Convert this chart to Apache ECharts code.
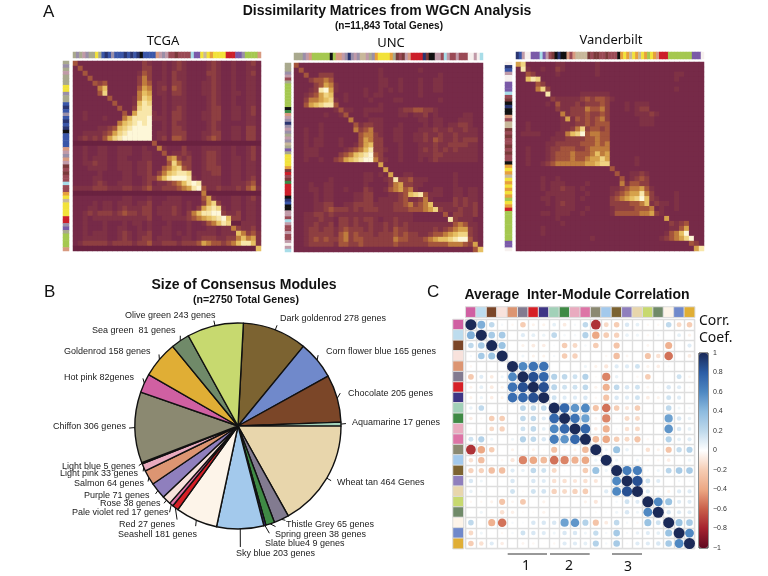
<!DOCTYPE html>
<html><head><meta charset="utf-8">
<style>html,body{margin:0;padding:0;background:#fff}#c{width:768px;height:576px}</style>
<script src="https://cdn.jsdelivr.net/npm/echarts@6/dist/echarts.min.js"></script>
</head><body><div id="c"></div>
<script>
// ---------- data ----------
var moduleNames = ['Hot pink','Light blue','Chocolate','Rose','Salmon','Thistle Grey','Red','Slate blue4','Aquamarine','Spring green','Light pink','Pale violet red','Chiffon','Sky blue','Dark goldenrod','Purple','Wheat tan','Olive green','Sea green','Seashell','Corn flower blue','Goldenrod'];
var moduleColors = ['#d060a2','#bddcee','#7b4628','#f8e2dc','#dc9572','#827b90','#d61f26','#3e3585','#a2d1b8','#3f8a45','#e9abbf','#dd74a6','#8b8971','#a3c9ec','#7c6331','#8f7fbd','#e8d6ac','#c7d96f','#708a69','#fdf4e9','#7089cb','#e0ae35'];
var pieNames = ['Dark goldenrod','Corn flower blue','Chocolate','Aquamarine','Wheat tan','Thistle Grey','Spring green','Slate blue4','Sky blue','Seashell','Red','Pale violet red','Rose','Purple','Salmon','Light pink','Light blue','Chiffon','Hot pink','Goldenrod','Sea green','Olive green'];
var pieValues = [278,165,205,17,464,65,38,9,203,181,27,17,38,71,64,33,5,306,82,158,81,243];
var pieLabels = ['Dark goldenrod 278 genes','Corn flower blue 165 genes','Chocolate 205 genes','Aquamarine 17 genes','Wheat tan 464 Genes','Thistle Grey 65 genes','Spring green 38 genes','Slate blue4 9 genes','Sky blue 203 genes','Seashell 181 genes','Red 27 genes','Pale violet red 17 genes','Rose 38 genes','Purple 71 genes','Salmon 64 genes','Light pink 33 genes','Light blue 5 genes','Chiffon 306 genes','Hot pink 82genes','Goldenrod 158 genes','Sea green  81 genes','Olive green 243 genes'];
var corr = [
[1,.45,.2,.03,-.03,-.2,-.05,-.05,.08,-.08,.03,.2,-.75,-.15,-.2,.12,.08,-.03,-.03,.2,-.15,-.2],
[.45,1,.3,.3,0,.1,.08,.06,.2,.03,.03,.25,-.4,-.2,-.18,.07,.05,-.03,.03,0,.08,-.05],
[.2,.3,1,.35,0,-.05,-.08,-.07,.02,-.2,-.15,.03,-.2,0,-.25,0,0,-.04,0,-.35,0,.1],
[.03,.3,.35,1,0,.05,-.05,-.05,.03,-.2,-.18,.01,0,-.03,-.28,-.04,0,-.25,-.12,-.55,0,-.08],
[-.03,0,0,0,1,.6,.7,.7,0,0,0,.05,-.05,-.1,.1,.1,.15,-.05,-.07,.02,0,0],
[-.22,.1,-.08,.05,.6,1,.85,.75,.25,.2,.15,.25,-.02,-.5,.07,0,-.03,-.2,0,0,.15,-.04],
[-.05,.08,-.08,-.05,.7,.85,1,.85,.22,.15,.15,.2,-.05,-.35,.2,.12,.15,-.04,-.02,.12,.1,-.02],
[-.05,.06,-.07,-.05,.72,.75,.85,1,.15,.1,.1,.12,-.03,-.25,.12,.1,.15,-.08,-.05,.15,.1,0],
[.07,.2,0,.02,0,.22,.2,.2,1,.75,.55,.6,-.25,-.55,-.2,-.1,-.2,0,0,.2,.05,.03],
[-.07,-.03,-.2,-.2,0,.2,.2,.1,.75,1,.7,.5,-.04,-.5,.02,-.15,-.15,0,0,.5,.12,.07],
[-.02,-.02,-.15,-.18,0,.15,.2,.08,.6,.75,1,.75,-.07,-.35,.02,-.12,-.15,0,0,.55,.12,.08],
[.15,.25,.05,0,.05,.25,.2,.12,.65,.55,.75,1,-.3,-.4,-.2,-.15,-.25,-.03,-.02,.25,.08,.1],
[-.75,-.4,-.2,0,-.05,-.03,-.05,-.02,-.25,-.03,-.05,-.3,1,.05,.35,.07,0,-.12,-.05,-.25,.18,.25],
[-.12,-.28,-.02,-.03,-.1,-.5,-.4,-.3,-.55,-.5,-.35,-.4,.05,1,.05,.02,.05,-.03,-.03,-.07,0,.05],
[-.18,-.18,-.28,-.28,.1,.07,.2,.15,-.15,.02,.02,-.2,.35,.05,1,.65,.65,.03,.05,.22,.3,.3],
[.12,.05,0,-.01,.12,0,.12,.1,-.12,-.12,-.1,-.12,-.1,.02,.6,1,.85,.15,.1,0,.03,.02],
[.07,.03,0,0,.15,-.02,.15,.14,-.18,-.15,-.18,-.2,0,.1,.6,.85,1,.1,.04,-.05,.1,.1],
[-.03,-.03,-.05,-.25,-.04,-.22,0,-.05,0,0,0,-.05,-.1,0,.03,.15,.1,1,.6,.35,.1,.1],
[-.01,.05,-.02,-.12,-.06,-.02,-.02,-.05,-.02,0,0,-.01,-.02,.02,.05,.12,.05,.6,1,.12,.1,.1],
[.2,0,-.35,-.55,.03,.02,.12,.12,.12,.5,.55,.25,-.25,-.08,.2,.03,-.03,.35,.15,1,.35,.3],
[-.15,.05,0,-.03,.03,.15,.12,.1,.05,.12,.12,.05,.18,.03,.3,.03,.07,.1,.08,.35,1,.6],
[-.2,-.12,.1,-.07,0,-.04,-.03,-.01,-.03,.1,.1,.08,.25,.03,.3,.02,.1,.1,.12,.3,.6,1]];
var corrTicks = [-1,-.8,-.6,-.4,-.2,0,.2,.4,.6,.8,1];
var matTCGA = [
'30000000000000210010121000012100100120','03000000000000220010121000012100100110',
'00300000000001320010211000022100100120','00030000000002420010211000012100100110',
'00003230000002430110221000112100100110','00000460000003540120321000112100100110',
'00000370000004650110221000112100110110','00000003000014760010111000012100100110',
'00000000300016870010111000012100100110','00000000030027880010121000012200110120',
'00100000003058881010221000112200110120','00100010004688891110221000112200110110',
'00000000046789890010211000012100000110','00000112367899990010221000012100110220',
'00111123578999990110222000112200110220','01212135789999990120332000123200110220',
'----------------3---------------------','00100110011100100410002000111100100120',
'00100110011100110030112100122100100120','00101110011000110004521200122100110120',
'00112110011101120003742200122100110110','00011110011101120034673200122200110110',
'00000100001101120246788700112200110110','00001100001100122468999810111100110120',
'00001210011100120112346898111100111230','11112221112211231122234589311211121341',
'--------------------------4-----------','00000000001100010001110000351000110120',
'00001011011101120011110100257200110110','00011011012111220111210102578710110110',
'00121222123221220111210246889921120110','00101111111111120011111234567896220110',
'00100010001011010001000100134687--1110','00100010011001010011000100011011421120',
'00101110012101120011010101111011164231','00111110012101220111001101222112246451',
'01222221222212231122212223543323468861','-------------------------------------6'];
var matUNC = [
'30000000000000000000000000000000000000','03000000000000000100000001000000000000',
'00300222000000000100000000000100000000','00023343000000000110010001001100000000',
'00002354100000000110010001001100000000','00012895100000100101010001001100000000',
'00123576001000101100000001000000000000','00244567101000010000110000000100000000',
'00356788300000000100000000000000000000','00000000131100111100012233221000000000',
'00000010013000100000011011201000001100','00000000000400011100000001101100011100',
'00000100000031221100010000101101122100','00100100000042341100110001112112112110',
'00100100000003442100110011211211211110','00101100010003542200110011213211212220',
'00101100010013562200010001112112222110','00111000001234682210010001212121211110',
'00111000023467893200010001112211111110','00100100235678994210010001012111111110',
'00000000000000000500000000000000000000','00000000000000000050000000000000000000',
'00000000000000110105001100000000100000','00000001000000110012822311100000100000',
'00010011000000100002452211000000100000','00011011001000210013453410001100110110',
'00001011000011220001123678311100110110','00001011000011220111123112410000212110',
'00001122001122221111223423461111212120','00001123222121222111222333457211121120',
'00112212111111111111111100000030221120','00111211022121221011211100000008211100',
'00112112022121121121212111111111343110','00122122123222121121322111112123455210',
'00122222134232221222323221123345677210','00123232234233222222433222345667899310',
'00122222133223222222322222233334443250','00000000000000000000000000000000000036'];
var matVand = [
'57000000110000001000000000000000000000','08100100210000001000000000000000000000',
'00320000100000001000000000000000110000','00687000000000000000000000000000100000',
'00003200000000000000000000000000000000','00004720000000000000000000000000100000',
'00000080000001111110000000000000000000','00000002111112323321000000000000000000',
'00000010311121222320001011100000000000','00000000211222433420001012200000000000',
'00000000041222322320000011121000000000','00000000015132323420000001110000000000',
'00100000011122323330000001110000000000','00100000011247233230000000000000000000',
'01111000114679344330000000000000000000','00000001112222334330000000000000000000',
'00000011222223334340000000000000000000','00100012233322344440000000000000000000',
'00100012333433346450000000000000000000','00100012333433455750000010000000000000',
'00100123444444556770000010000000000000','00000000000000000003000000000000000000',
'00000000000000000000300112100000000000','00000100100000000000030123200000000000',
'00000101110000100000041332200000000000','00000101121101000001123445310000000000',
'00000011111100100001234558420000100000','00000110111101000002345679621000100000',
'00000010121100000002222334612110100000','00000000111100100001222233340100100000',
'00000110111001000001333334452100000000','00000000100000000000000000000050000000',
'00000000010000000000000000000002123000','00000100000000000000000000000001135000',
'00000100000000000000000000000013469000','00000000000000010000000000000123457900',
'00000000000000000000000000000000000320','00000000000000000000000000000000000058'];
var stripTop = {
  TCGA:'asaesaayabdbsbbbdbdbdkbbbbnesemmhmmmmlppytyoyyyyrrrppsggggn',
  UNC:'aaasenggggggkgnnesdsestteasoyyyyoahmhenrrrrdhkkeemlemmemmmwwewl',
  Vand:'dbewwppplpemhkdkknmntttthmhhmmhmmmkoyotyotyogyonrrrggggggggpppw'
};
var stripLeft = {
  TCGA:'asaeaaayysaabdbsbdbdkbbbbnesnehmhmmlmmoytyyyyrrspaggggn',
  UNC:'aaasemaggggggggkfnesdsesaestapayyyyohrmhfrrrrkdbkkeemlemmemmewel',
  Vand:'wdbewwppplmhkdkknmtthmhmmhmhmmkoyotyoyoyogyorgggggggggppw'
};
var stripPalette = {a:'#a9a98e',b:'#3a56a8',k:'#111111',y:'#f2e23a',r:'#cc1f2a',p:'#7a5aa8',g:'#a5c850',m:'#9a4a55',n:'#d89a80',l:'#a8dde8',s:'#9a8fa8',o:'#e6a03c',w:'#f6f0ee',d:'#2a3570',e:'#c09aa8',t:'#c8b89a',f:'#3a8a45',h:'#7a3a3a'};
var matrixRamp = ['#6a2240','#762a48','#7f3245','#8e3f41','#a4553c','#bf7c3d','#d6a24b','#e6bf62','#f0d482','#f8e7aa','#fdf7d8'];
var corrRamp = ['#5f0a20','#a5222f','#c9604a','#eca884','#f6cdb4','#ffffff','#bfd9ec','#8dbbdf','#4f88c2','#2c5da5','#1b2a58'];

// ---------- layout ----------
var matrixBoxes = [
 {key:'TCGA',mat:matTCGA,m:[73,61,188,190],t:[73,52,188,6],l:[63,61,6,190]},
 {key:'UNC',mat:matUNC,m:[294,63,189,189],t:[294,53,189,7],l:[285,63,6,189]},
 {key:'Vand',mat:matVand,m:[516,62,188,189],t:[516,52,188,7],l:[505,62,7,189]}
];
// left edge x, middle y of each pie label
var pieLabelPos = [[280,319],[326,352],[348,394],[352,423],[337,483],[286,525],[275,535],[265,544],[236,554],[118,535],[119,525],[72,513],[100,504],[84,496],[74,484],[60,474],[62,467],[53,427],[64,378],[64,352],[92,331],[125,316]];
var leaderLen = [5,5,6,5,5,4,6,9,18,6,12,8,4,4,4,4,4,6,5,5,5,5];

var grids=[],xAxes=[],yAxes=[],series=[],titles=[];
function addGrid(r,bg,border){
  grids.push({left:r[0],top:r[1],width:r[2],height:r[3],show:!!(bg||border),backgroundColor:bg||'transparent',borderColor:border||'transparent',borderWidth:border?1:0});
  return grids.length-1;
}
function range(n){var a=[];for(var i=0;i<n;i++)a.push(String(i));return a;}
function hiddenCat(g,n,inv){return {type:'category',gridIndex:g,data:range(n),show:false,inverse:!!inv};}
var matIdx=[],catIdx=[];
var catPalette=Object.keys(stripPalette).map(function(k){return stripPalette[k];}).concat(moduleColors);
var letterKeys=Object.keys(stripPalette);
matrixBoxes.forEach(function(b){
  var g=addGrid(b.m,matrixRamp[1]);
  xAxes.push(hiddenCat(g,38));yAxes.push(hiddenCat(g,b.mat.length,true));
  var d=[];
  b.mat.forEach(function(row,r){for(var c=0;c<row.length;c++){var ch=row[c];d.push([c,r,ch==='-'?-1:+ch]);}});
  matIdx.push(series.length);
  series.push({type:'heatmap',xAxisIndex:g,yAxisIndex:g,data:d,silent:true,progressive:0,itemStyle:{borderWidth:0}});
  var s=stripTop[b.key];
  g=addGrid(b.t);
  xAxes.push(hiddenCat(g,s.length));yAxes.push(hiddenCat(g,1));
  catIdx.push(series.length);
  series.push({type:'heatmap',xAxisIndex:g,yAxisIndex:g,silent:true,progressive:0,
    data:s.split('').map(function(ch,i){return [i,0,letterKeys.indexOf(ch)];})});
  s=stripLeft[b.key];
  g=addGrid(b.l);
  xAxes.push(hiddenCat(g,1));yAxes.push(hiddenCat(g,s.length,true));
  catIdx.push(series.length);
  series.push({type:'heatmap',xAxisIndex:g,yAxisIndex:g,silent:true,progressive:0,
    data:s.split('').map(function(ch,i){return [0,i,letterKeys.indexOf(ch)];})});
});
var off=letterKeys.length;
var g1=addGrid([465.7,307,229,10.2]);
xAxes.push(hiddenCat(g1,22));yAxes.push(hiddenCat(g1,1));
catIdx.push(series.length);
series.push({type:'heatmap',xAxisIndex:g1,yAxisIndex:g1,silent:true,progressive:0,itemStyle:{borderColor:'#dcdcdc',borderWidth:1},
  data:moduleNames.map(function(n,i){return [i,0,off+i];})});
var g2=addGrid([453,319.5,10.4,229.2]);
xAxes.push(hiddenCat(g2,1));yAxes.push(hiddenCat(g2,22,true));
catIdx.push(series.length);
series.push({type:'heatmap',xAxisIndex:g2,yAxisIndex:g2,silent:true,progressive:0,itemStyle:{borderColor:'#dcdcdc',borderWidth:1},
  data:moduleNames.map(function(n,i){return [0,i,off+i];})});
var g3=addGrid([465.7,319.5,229,229.2],null,'#dadada');
var catAxis=function(g,inv){return {type:'category',gridIndex:g,data:moduleNames,inverse:inv,axisLine:{show:false},axisTick:{show:false},axisLabel:{show:false},splitLine:{show:true,interval:0,lineStyle:{color:'#dedede',width:1.4}}};};
xAxes.push(catAxis(g3,false));yAxes.push(catAxis(g3,true));
var cd=[];corr.forEach(function(row,r){row.forEach(function(v,c){if(v!==0)cd.push([c,r,v]);});});
var corrSeries=series.length;
series.push({type:'scatter',xAxisIndex:g3,yAxisIndex:g3,data:cd,silent:true,itemStyle:{opacity:1},
  symbolSize:function(v){return 11*Math.pow(Math.abs(v[2]),0.42);}});
var g4=addGrid([699,353,9,195],null,'#222');
xAxes.push({type:'value',gridIndex:g4,show:false,min:0,max:1,splitLine:{show:false}});
yAxes.push({type:'value',gridIndex:g4,position:'right',min:-1,max:1,interval:.2,
  axisLine:{show:false},axisTick:{show:false},splitLine:{show:false},
  axisLabel:{fontFamily:'Liberation Sans',fontSize:7,color:'#333',margin:5,customValues:corrTicks,formatter:function(v){return String(+v.toFixed(1)).replace('-','\u2212');}}});
series.push({type:'line',xAxisIndex:g4,yAxisIndex:g4,data:[],silent:true});
series.push({type:'pie',center:[238,426],radius:[0,103],startAngle:87,clockwise:true,silent:true,animation:false,
  itemStyle:{borderColor:'#111',borderWidth:1.4},
  label:{show:true,position:'outside',fontFamily:'Liberation Sans',fontSize:9,color:'#222',formatter:function(p){return pieLabels[p.dataIndex];}},
  labelLine:{show:true,length:6,length2:0,smooth:false,lineStyle:{color:'#111',width:1}},
  labelLayout:function(p){
    var i=p.dataIndex,q=pieLabelPos[i],o={x:q[0],y:q[1],align:'left',verticalAlign:'middle'};
    var lp=p.labelLinePoints;
    if(lp&&lp.length){
      var dx=lp[1][0]-lp[0][0],dy=lp[1][1]-lp[0][1],n=Math.sqrt(dx*dx+dy*dy)||1;
      var e=[lp[0][0]+dx/n*leaderLen[i],lp[0][1]+dy/n*leaderLen[i]];
      o.labelLinePoints=[lp[0],e,e];
    }
    return o;
  },
  data:pieNames.map(function(n,i){return {name:n,value:pieValues[i],itemStyle:{color:moduleColors[moduleNames.indexOf(n)]}};})
});
function T(text,x,y,size,bold,font,align,color){
  titles.push({text:text,left:x,top:y,padding:0,textAlign:align||'center',textVerticalAlign:'middle',
    textStyle:{fontSize:size,fontWeight:bold?'bold':'normal',fontFamily:font||'Liberation Sans',color:color||'#111'}});
}
T('Dissimilarity Matrices from WGCN Analysis',387,11,14,true);
T('(n=11,843 Total Genes)',389,26,10,true);
T('TCGA',163,41,13,false,'Noto Sans');
T('UNC',391,43,13,false,'Noto Sans');
T('Vanderbilt',611,40,13,false,'Noto Sans');
T('A',43,12,17,false,'Liberation Sans','left');
T('B',44,292,17,false,'Liberation Sans','left');
T('C',427,292,17,false,'Liberation Sans','left');
T('Size of Consensus Modules',244,285,14,true);
T('(n=2750 Total Genes)',246,300,10.6,true);
T('Average  Inter-Module Correlation',577,295,14,true);
T('Corr.',699,321,14,false,'Noto Sans','left');
T('Coef.',699,338,14,false,'Noto Sans','left');
T('1',526,566,14,false,'Noto Sans');
T('2',569,566,14,false,'Noto Sans');
T('3',628,567,14,false,'Noto Sans');

var groupLines=[[507.7,547],[550,589.7],[612,642]];
var chart=echarts.init(document.getElementById('c'),null,{renderer:'canvas'});
chart.setOption({
  animation:false,backgroundColor:'#fff',
  title:titles,grid:grids,xAxis:xAxes,yAxis:yAxes,series:series,
  tooltip:{show:false},
  visualMap:[
    {type:'continuous',show:false,min:-1,max:9,dimension:2,seriesIndex:matIdx,inRange:{color:matrixRamp}},
    {type:'piecewise',show:false,dimension:2,seriesIndex:catIdx,pieces:catPalette.map(function(c,i){return {value:i,color:c};})},
    {type:'continuous',show:true,min:-1,max:1,dimension:2,seriesIndex:corrSeries,left:699,top:353,itemWidth:9,itemHeight:195,text:null,calculable:false,hoverLink:false,padding:0,inRange:{color:corrRamp},textStyle:{fontSize:0}}
  ],
  graphic:groupLines.map(function(l){return {type:'line',shape:{x1:l[0],y1:554,x2:l[1],y2:554},style:{stroke:'#333',lineWidth:1},silent:true};})
});
</script></body></html>
